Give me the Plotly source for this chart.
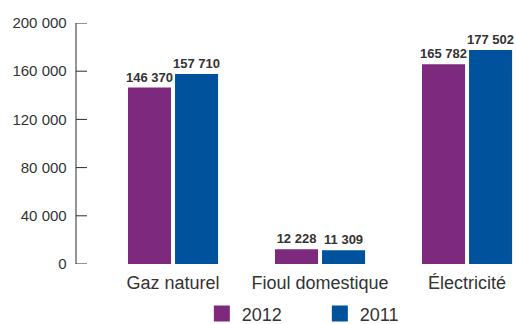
import plotly.graph_objects as go

categories = ["Gaz naturel", "Fioul domestique", "Électricité"]
values_2012 = [146370, 12228, 165782]
values_2011 = [157710, 11309, 177502]
y_ticks = [0, 40000, 80000, 120000, 160000, 200000]

COLOR_2012 = "#7d2a7e"
COLOR_2011 = "#00529c"
TEXT = "#333333"
AXIS = "#2b2b2b"
FONT = "Liberation Sans, Arial, sans-serif"
TICK_LEN = 0.025  # in paper units of the plot width


def fmt(v):
    return f"{v:,}".replace(",", " ")


x = list(range(len(categories)))

fig = go.Figure()
for name, vals, color in [("2012", values_2012, COLOR_2012), ("2011", values_2011, COLOR_2011)]:
    fig.add_trace(go.Bar(
        x=x, y=vals, name=name, marker=dict(color=color, line=dict(width=0)),
        text=[fmt(v) for v in vals], textposition="outside", cliponaxis=False,
        constraintext="none",
        textfont=dict(family=FONT, size=13, color=TEXT, weight="bold"),
        showlegend=False,
    ))
    # legend swatch
    fig.add_trace(go.Scatter(
        x=[None], y=[None], mode="markers", name=name,
        marker=dict(symbol="square", size=18, color=color),
    ))

# vertical value axis with short tick marks pointing into the plot
fig.add_shape(type="line", xref="paper", yref="paper", x0=0, x1=0, y0=0, y1=1,
              line=dict(color=AXIS, width=1), layer="above")
for t in y_ticks:
    fig.add_shape(type="line", xref="paper", yref="y", x0=0, x1=TICK_LEN, y0=t, y1=t,
                  line=dict(color=AXIS, width=1), layer="above")

fig.update_layout(
    width=516, height=324,
    margin=dict(l=76, r=0, t=23, b=60, autoexpand=False),
    paper_bgcolor="white", plot_bgcolor="white",
    font=dict(family=FONT, color=TEXT),
    barmode="group", bargap=0.36, bargroupgap=0.085,
    legend=dict(
        orientation="h", x=0.286, xanchor="left", y=-0.207, yanchor="middle",
        font=dict(size=18, color=TEXT), entrywidth=73, entrywidthmode="pixels",
        itemsizing="trace", tracegroupgap=0,
    ),
    xaxis=dict(
        tickmode="array", tickvals=x, ticktext=categories, automargin=False,
        range=[-0.66, 2.333], showline=False, showgrid=False, zeroline=False,
        ticks="", tickfont=dict(size=18, color=TEXT), ticklabelstandoff=6,
    ),
    yaxis=dict(
        range=[0, 200000], tickmode="array", tickvals=y_ticks, automargin=False,
        ticktext=[fmt(v) + "\u00a0\u00a0" for v in y_ticks],
        showline=False, ticks="",
        showgrid=False, zeroline=False,
        tickfont=dict(size=15, color=TEXT),
    ),
)

fig.write_html("out.html")
